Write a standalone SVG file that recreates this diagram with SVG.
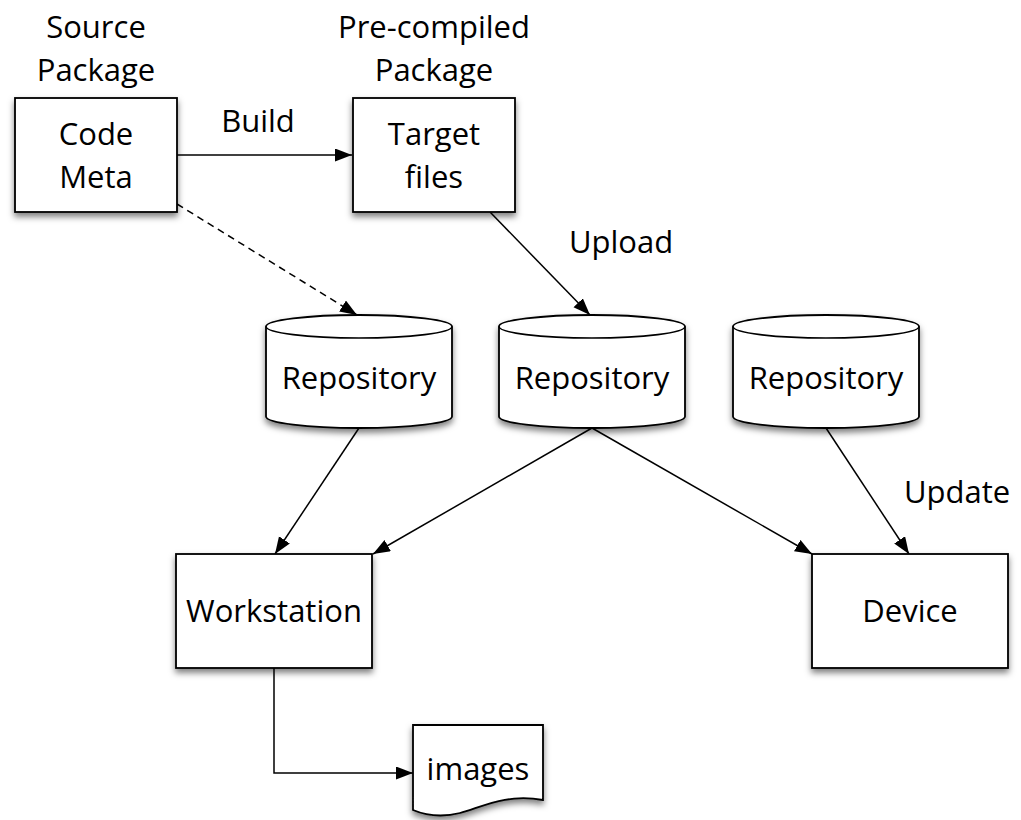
<svg xmlns="http://www.w3.org/2000/svg" width="1021" height="820" viewBox="0 0 1021 820">
<defs>
<filter id="sh" x="-20%" y="-20%" width="140%" height="150%">
<feDropShadow dx="0" dy="4" stdDeviation="3" flood-color="#000" flood-opacity="0.5"/>
</filter>
<marker id="ah" markerUnits="userSpaceOnUse" markerWidth="18" markerHeight="14" refX="17" refY="6.5" orient="auto">
<path d="M0,0 L17,6.5 L0,13 Z" fill="#000"/>
</marker>
<style>
.shape{fill:#fff;stroke:#000;stroke-width:1.8;filter:url(#sh)}
.cap{fill:none;stroke:#000;stroke-width:1.6}
.t{font-family:"Open Sans","Noto Sans","DejaVu Sans",sans-serif;font-size:31px;fill:#000;text-anchor:middle}
.c{fill:none;stroke:#000;stroke-width:1.5}
.arr{marker-end:url(#ah)}
.dash{stroke-dasharray:7,5}
</style>
</defs>
<rect width="1021" height="820" fill="#fff"/>
<g id="connectors">
<path class="c arr" d="M177,155 H352"/>
<path class="c arr dash" d="M177,204 L357,315"/>
<path class="c arr" d="M490,212 L590,315"/>
<path class="c arr" d="M359,428 L275,554"/>
<path class="c arr" d="M592,428 L373,554"/>
<path class="c arr" d="M592,428 L812,554"/>
<path class="c arr" d="M826,428 L909,554"/>
<path class="c arr" d="M274,668 V773 H413"/>
</g>
<g id="labels">
<text class="t" x="258" y="132">Build</text>
<text class="t" x="621" y="253">Upload</text>
<text class="t" x="957" y="503">Update</text>
</g>
<g id="source-package">
<text class="t" x="96" y="38">Source</text>
<text class="t" x="96" y="81">Package</text>
<rect class="shape" x="15" y="98" width="162" height="114"/>
<text class="t" x="96" y="145">Code</text>
<text class="t" x="96" y="188">Meta</text>
</g>
<g id="precompiled-package">
<text class="t" x="434" y="38">Pre-compiled</text>
<text class="t" x="434" y="81">Package</text>
<rect class="shape" x="353" y="98" width="162" height="114"/>
<text class="t" x="434" y="145">Target</text>
<text class="t" x="434" y="188">files</text>
</g>
<g id="repository-1">
<path class="shape" d="M266,326.5 A93,11.5 0 0 1 452,326.5 V416.5 A93,11.5 0 0 1 266,416.5 Z"/>
<path class="cap" d="M266,326.5 A93,11.5 0 0 0 452,326.5"/>
<text class="t" x="359" y="389">Repository</text>
</g>
<g id="repository-2">
<path class="shape" d="M499,326.5 A93,11.5 0 0 1 685,326.5 V416.5 A93,11.5 0 0 1 499,416.5 Z"/>
<path class="cap" d="M499,326.5 A93,11.5 0 0 0 685,326.5"/>
<text class="t" x="592" y="389">Repository</text>
</g>
<g id="repository-3">
<path class="shape" d="M733,326.5 A93,11.5 0 0 1 919,326.5 V416.5 A93,11.5 0 0 1 733,416.5 Z"/>
<path class="cap" d="M733,326.5 A93,11.5 0 0 0 919,326.5"/>
<text class="t" x="826" y="389">Repository</text>
</g>
<g id="workstation">
<rect class="shape" x="176" y="554" width="196" height="114"/>
<text class="t" x="274" y="622">Workstation</text>
</g>
<g id="device">
<rect class="shape" x="812" y="554" width="196" height="114"/>
<text class="t" x="910" y="622">Device</text>
</g>
<g id="images">
<path class="shape" d="M413,725 H543 V800 C505,793 480,808 460,813 C440,818 425,815 413,810 Z"/>
<text class="t" x="478" y="780">images</text>
</g>
</svg>
